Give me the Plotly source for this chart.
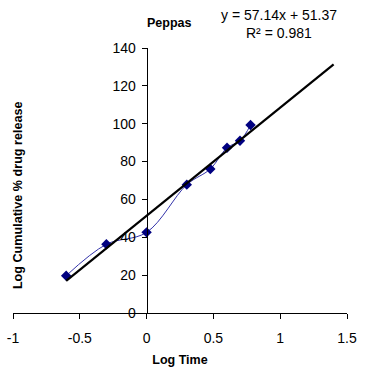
import plotly.graph_objects as go

log_time = [-0.602, -0.301, 0.0, 0.301, 0.477, 0.602, 0.699, 0.778]
log_release = [19.7, 36.3, 42.6, 67.8, 76.1, 87.3, 91.0, 99.3]
slope = 57.14
intercept = 51.37
r2 = 0.981
trend_x = [-0.602, 1.4]
trend_y = [slope * x + intercept for x in trend_x]

x_ticks = [-1, -0.5, 0, 0.5, 1, 1.5]
y_ticks = [0, 20, 40, 60, 80, 100, 120, 140]

font = "Arial, Liberation Sans, sans-serif"

fig = go.Figure()
fig.add_trace(go.Scatter(
    x=log_time, y=log_release, mode="lines+markers",
    line=dict(color="#3333aa", width=1, shape="spline", smoothing=1.0),
    marker=dict(symbol="diamond", size=8, color="#000080"),
    showlegend=False, cliponaxis=False))
fig.add_trace(go.Scatter(
    x=trend_x, y=trend_y, mode="lines",
    line=dict(color="black", width=2.2),
    showlegend=False, cliponaxis=False))

fig.update_layout(
    width=369, height=370,
    margin=dict(l=13, r=22, t=48, b=57, autoexpand=False),
    paper_bgcolor="white", plot_bgcolor="white",
    font=dict(family=font, size=14, color="black"),
    xaxis=dict(range=[-1, 1.5], tickvals=x_ticks, ticktext=[str(v) for v in x_ticks],
               showgrid=False, zeroline=False, showline=True, linecolor="black", linewidth=1,
               ticks="outside", ticklen=5, tickcolor="black", automargin=False,
               ticklabelstandoff=7,
               title=dict(text="<b>Log Time</b>", font=dict(size=12.5), standoff=10)),
    yaxis=dict(range=[0, 140], tickvals=y_ticks, anchor="free", position=0.4,
               showgrid=False, zeroline=False, showline=True, linecolor="black", linewidth=1,
               ticks="outside", ticklen=5, tickcolor="black", automargin=False,
               ticklabelstandoff=3),
    annotations=[
        dict(text="<b>Log Cumulative % drug release</b>", xref="paper", yref="paper",
             x=0.015, y=0.445, xanchor="center", yanchor="middle", textangle=-90,
             showarrow=False, font=dict(size=12.6)),
        dict(text="<b>Peppas</b>", xref="paper", yref="paper", x=0.47, y=1.094,
             xanchor="center", yanchor="middle", showarrow=False, font=dict(size=12.5)),
        dict(text=f"y = {slope}x + {intercept}", xref="paper", yref="paper",
             x=0.795, y=1.125, xanchor="center", yanchor="middle", showarrow=False,
             font=dict(size=14)),
        dict(text=f"R² = {r2}", xref="paper", yref="paper",
             x=0.795, y=1.057, xanchor="center", yanchor="middle", showarrow=False,
             font=dict(size=14)),
    ],
)
fig.write_html("out.html", config={"displayModeBar": False},
               post_script="document.body.style.margin='0';document.body.style.overflow='hidden';")
